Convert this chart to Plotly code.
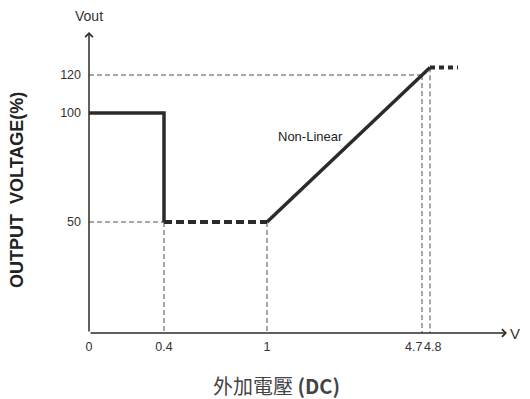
import numpy as np
import plotly.graph_objects as go

# Non-uniform axis scales (value -> display position)
X_BREAKS = [0, 0.4, 1, 4.7, 4.8]
X_SCALE = [0, 75, 178, 333, 341]
Y_BREAKS = [0, 50, 100, 120]
Y_SCALE = [0, 111, 220, 258]

# Tick labels
X_TICKS = [0, 0.4, 1]
X_TICK_TEXT = ["0", "0.4", "1"]
Y_TICKS = [50, 100, 120]
Y_TICK_TEXT = ["50", "100", "120"]

# Series
cut_x = [0, 0.4, 0.4]
cut_y = [100, 100, 50]
hold_x = [0.4, 1]
hold_y = [50, 50]
ramp_x = [1, 4.7, 4.8]
ramp_y = [50, 120, 124]
top_x = [4.8, 5.15]
top_y = [124, 124]

# Guide lines (x list, y list)
guides = [
    ([0, 0.4], [50, 50]),
    ([0.4, 0.4], [50, 0]),
    ([1, 1], [50, 0]),
    ([0, 4.7], [120, 120]),
    ([4.7, 4.7], [120, 0]),
    ([4.8, 4.8], [124, 0]),
]


def piecewise(v, breaks, scale):
    v = np.asarray(v, float)
    out = np.interp(v, breaks, scale)
    hi = (scale[-1] - scale[-2]) / (breaks[-1] - breaks[-2])
    out = np.where(v > breaks[-1], scale[-1] + (v - breaks[-1]) * hi, out)
    return out


def sx(v):
    return piecewise(v, X_BREAKS, X_SCALE)


def sy(v):
    return piecewise(v, Y_BREAKS, Y_SCALE)


DARK = "#2e2a2a"
GUIDE = "#4d4d4d"
TXT = "#333333"
SANS = "Liberation Sans, Arial, sans-serif"

fig = go.Figure()

for gx, gy in guides:
    fig.add_trace(go.Scatter(x=sx(gx), y=sy(gy), mode="lines",
                             line=dict(color=GUIDE, width=1, dash="5px,3px"),
                             hoverinfo="skip", showlegend=False))

fig.add_trace(go.Scatter(x=sx(cut_x), y=sy(cut_y), mode="lines",
                         line=dict(color=DARK, width=3.5), showlegend=False))
fig.add_trace(go.Scatter(x=sx(hold_x), y=sy(hold_y), mode="lines",
                         line=dict(color=DARK, width=4, dash="8px,4px"), showlegend=False))
fig.add_trace(go.Scatter(x=sx(ramp_x), y=sy(ramp_y), mode="lines",
                         line=dict(color=DARK, width=3.5), showlegend=False))
fig.add_trace(go.Scatter(x=sx(top_x), y=sy(top_y), mode="lines",
                         line=dict(color=DARK, width=4, dash="5px,4px"), showlegend=False))

# page body has an 8px margin; size the figure so it fills the window
PAD = 8
W, H = 530 - PAD, 399 - PAD
B = 66
L = 89 - PAD
XR = W - L          # 1 display unit = 1 px
YR = H - B


def px_x(p):        # window pixel -> paper x
    return (p - 89) / XR


def px_y(p):        # window pixel -> paper y
    return (333 - p) / YR


annotations = [
    # axes with arrows
    dict(x=418, y=0, ax=0, ay=0, xref="x", yref="y", axref="x", ayref="y",
         showarrow=True, arrowhead=4, arrowsize=1, arrowwidth=1.5,
         arrowcolor=DARK, text=""),
    dict(x=0, y=301, ax=0, ay=0, xref="x", yref="y", axref="x", ayref="y",
         showarrow=True, arrowhead=4, arrowsize=1, arrowwidth=1.5,
         arrowcolor=DARK, text=""),
    dict(x=0, y=317, xref="x", yref="y", text="Vout", showarrow=False,
         xanchor="center", yanchor="middle",
         font=dict(family=SANS, size=14, color=TXT)),
    dict(x=px_x(515), y=px_y(334), xref="paper", yref="paper", text="V", showarrow=False,
         xanchor="center", yanchor="middle",
         font=dict(family=SANS, size=15, color=TXT)),
    dict(x=334, y=0, xref="x", yref="y", text="4.7", showarrow=False,
         xanchor="right", yanchor="top", yshift=-6, borderpad=0,
         font=dict(family=SANS, size=12.5, color=TXT)),
    dict(x=334, y=0, xref="x", yref="y", text="4.8", showarrow=False,
         xanchor="left", yanchor="top", yshift=-6, borderpad=0,
         font=dict(family=SANS, size=12.5, color=TXT)),
    dict(x=float(sx(2.05)), y=float(sy(89)), xref="x", yref="y", text="Non-Linear",
         showarrow=False, xanchor="center", yanchor="middle",
         font=dict(family=SANS, size=13, color="#222222")),
    dict(x=px_x(17), y=px_y(190), xref="paper", yref="paper",
         xanchor="center", yanchor="middle",
         text="<b>OUTPUT  VOLTAGE(%)</b>", textangle=-90, showarrow=False,
         font=dict(family=SANS, size=18, color="#222222")),
    dict(x=px_x(276), y=px_y(385), xref="paper", yref="paper",
         xanchor="center", yanchor="middle",
         text="外加電壓 <b>(DC)</b>", showarrow=False,
         font=dict(family="Noto Sans CJK TC, Liberation Sans, sans-serif", size=20, color="#444444")),
]

fig.update_layout(
    width=W, height=H,
    margin=dict(l=L, r=0, t=0, b=B, autoexpand=False),
    paper_bgcolor="white", plot_bgcolor="white",
    showlegend=False,
    annotations=annotations,
    xaxis=dict(range=[0, XR], showgrid=False, zeroline=False, showline=False,
               tickmode="array", tickvals=list(sx(X_TICKS)), ticktext=X_TICK_TEXT,
               ticks="", tickfont=dict(family=SANS, size=12.5, color=TXT),
               ticklabelstandoff=4, fixedrange=True, automargin=False),
    yaxis=dict(range=[0, YR], showgrid=False, zeroline=False, showline=False,
               tickmode="array", tickvals=list(sy(Y_TICKS)), ticktext=Y_TICK_TEXT,
               ticks="", tickfont=dict(family=SANS, size=12.5, color=TXT),
               ticklabelstandoff=7, fixedrange=True, automargin=False),
)

fig.write_html("out.html")
